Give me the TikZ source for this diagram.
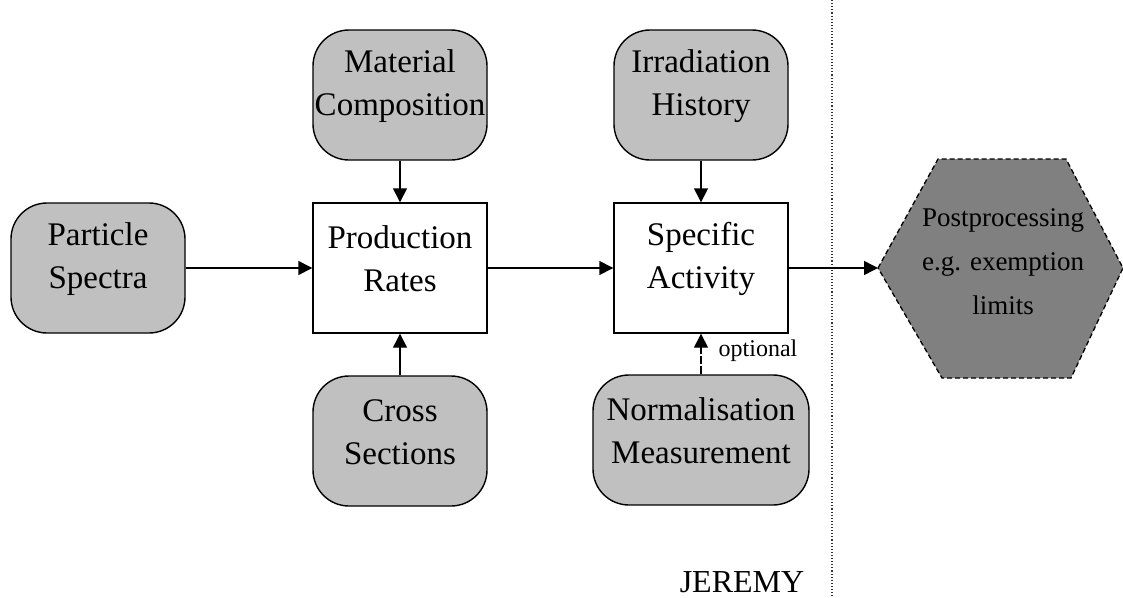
\documentclass[tikz,border=0pt]{standalone}
\usepackage{fontspec}
\setmainfont{Liberation Serif}
\usetikzlibrary{arrows.meta,positioning}
\definecolor{inputgray}{HTML}{C0C0C0}
\definecolor{postgray}{HTML}{808080}
\begin{document}
\begin{tikzpicture}[x=1pt,y=-1pt,
  base/.style={draw=black,line width=1.4pt,inner sep=0pt},
  boxtext/.style={label={[align=center,inner sep=0pt,yshift=9pt,
    font=\fontsize{33}{43}\selectfont]center:#1}},
  inputbox/.style={base,fill=inputgray,rounded corners=36pt,
    minimum width=174pt,minimum height=130pt},
  procbox/.style={base,fill=white,minimum width=174pt,minimum height=130pt},
  flow/.style={line width=1.4pt,-{Triangle[length=14pt,width=14pt]}},
  optflow/.style={flow,dashed,dash pattern=on 8pt off 2pt}]
\useasboundingbox (0,0) rectangle (1123,597);

% input quantities (rounded) and processing steps (square)
\node[inputbox,boxtext={Particle\\Spectra}]     (spectra)  at (98,268)  {};
\node[procbox,boxtext={Production\\Rates}]      (rates)    at (400,268) {};
\node[inputbox,boxtext={Material\\Composition}] (material) at (400,95)  {};
\node[inputbox,boxtext={Cross\\Sections}]       (xsec)     at (400,441) {};
\node[procbox,boxtext={Specific\\Activity}]     (activity) at (701,268) {};
\node[inputbox,boxtext={Irradiation\\History}]  (history)  at (701,95)  {};
\node[inputbox,minimum width=216pt,boxtext={Normalisation\\Measurement}] (norm) at (701,440) {};

% postprocessing hexagon
\coordinate (hexL)  at (878,268);
\coordinate (hexTL) at (938,159);
\coordinate (hexTR) at (1066,159);
\coordinate (hexR)  at (1123,268);
\coordinate (hexBR) at (1071,378);
\coordinate (hexBL) at (942,378);
\draw[fill=postgray,line width=1.3pt,dashed,dash pattern=on 5pt off 3pt]
  (hexL) -- (hexTL) -- (hexTR) -- (hexR) -- (hexBR) -- (hexBL) -- cycle;
\node[align=center,font=\fontsize{27}{44}\selectfont] (post) at (1003,262)
  {Postprocessing\\e.g. exemption\\limits};

% separator and label
\coordinate (sepTop) at (832,0);
\coordinate (sepBot) at (832,597);
\draw[black!80,line width=1.1pt,dotted] (sepTop) -- (sepBot);
\node[font=\fontsize{32}{38}\selectfont,anchor=base] (jeremy) at (742,592) {JEREMY};

% connectors
\draw[flow] (spectra.east) -- (rates.west);
\draw[flow] (material.south) -- (rates.north);
\draw[flow] (xsec.north) -- (rates.south);
\draw[flow] (rates.east) -- (activity.west);
\draw[flow] (history.south) -- (activity.north);
\draw[optflow] (norm.north) -- node[pos=0.43,anchor=base west,xshift=17pt,inner sep=0pt,
  font=\fontsize{24}{28}\selectfont] (optlabel) {optional} (activity.south);
\draw[flow] (activity.east) -- (hexL);
\end{tikzpicture}
\end{document}
